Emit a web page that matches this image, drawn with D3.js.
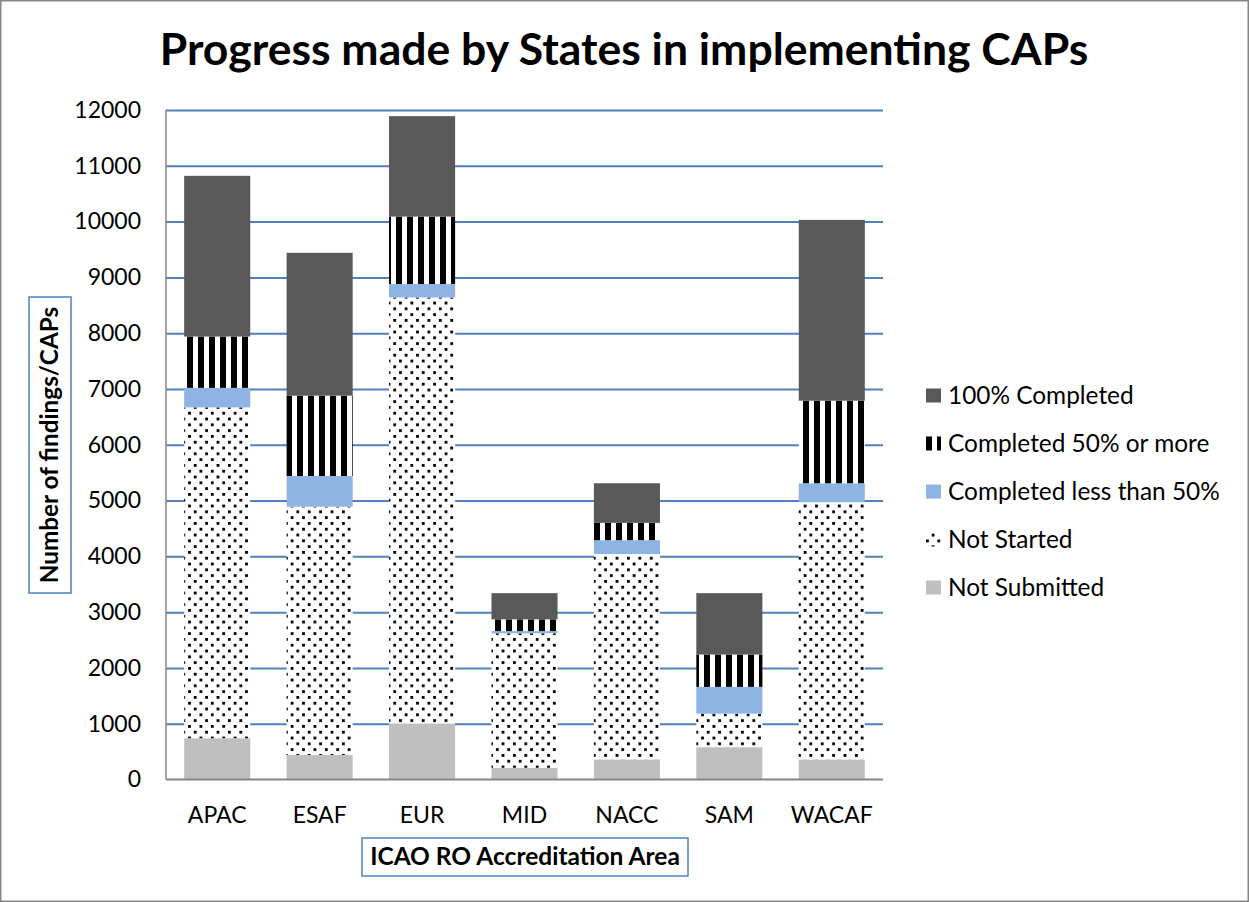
<!DOCTYPE html>
<html>
<head>
<meta charset="utf-8">
<script src="https://cdn.jsdelivr.net/npm/d3@7"></script>
<style>
  body { margin: 0; background: #fff; }
  svg { display: block; font-family: Lato, "Open Sans", sans-serif; }
</style>
</head>
<body>
<div id="chart"></div>
<script>
// data
const categories = ["APAC", "ESAF", "EUR", "MID", "NACC", "SAM", "WACAF"];
const notSubmitted = [740, 440, 1000, 210, 360, 580, 360];
const notStarted = [5930, 4450, 7640, 2410, 3680, 600, 4610];
const lessThan50 = [350, 550, 240, 40, 250, 480, 340];
const fiftyOrMore = [920, 1440, 1210, 210, 310, 580, 1480];
const completed100 = [2880, 2560, 1800, 470, 710, 1100, 3240];
const yTicks = d3.range(0, 12001, 1000);

const seriesKeys = ["notSubmitted", "notStarted", "lessThan50", "fiftyOrMore", "completed100"];
const seriesNames = {
  notSubmitted: "Not Submitted",
  notStarted: "Not Started",
  lessThan50: "Completed less than 50%",
  fiftyOrMore: "Completed 50% or more",
  completed100: "100% Completed"
};
const fills = {
  notSubmitted: "#bfbfbf",
  notStarted: "url(#dots)",
  lessThan50: "#8eb4e3",
  fiftyOrMore: "url(#stripes)",
  completed100: "#595959"
};

const table = categories.map((c, i) => ({
  area: c,
  notSubmitted: notSubmitted[i],
  notStarted: notStarted[i],
  lessThan50: lessThan50[i],
  fiftyOrMore: fiftyOrMore[i],
  completed100: completed100[i]
}));

const W = 1249, H = 902;
const plot = { left: 166, right: 883, top: 110, bottom: 779.5 };

const svg = d3.select("#chart").append("svg").attr("width", W).attr("height", H);

// patterns
const defs = svg.append("defs");
const dots = defs.append("pattern").attr("id", "dots")
  .attr("patternUnits", "userSpaceOnUse").attr("width", 11.4).attr("height", 11.6);
dots.append("rect").attr("width", 11.4).attr("height", 11.6).attr("fill", "#fff");
dots.append("rect").attr("x", 0).attr("y", 0).attr("width", 2.8).attr("height", 2.8).attr("fill", "#000");
dots.append("rect").attr("x", 5.7).attr("y", 5.8).attr("width", 2.8).attr("height", 2.8).attr("fill", "#000");

const stripes = defs.append("pattern").attr("id", "stripes")
  .attr("patternUnits", "userSpaceOnUse").attr("width", 11).attr("height", 10);
stripes.append("rect").attr("width", 11).attr("height", 10).attr("fill", "#fff");
stripes.append("rect").attr("x", 0).attr("width", 6).attr("height", 10).attr("fill", "#000");

// outer frame
svg.append("rect").attr("x", 0.75).attr("y", 0.75).attr("width", W - 1.5).attr("height", H - 1.5)
  .attr("fill", "none").attr("stroke", "#868686").attr("stroke-width", 1.5);

// title
svg.append("text").attr("x", 624).attr("y", 65).attr("text-anchor", "middle")
  .attr("font-weight", "bold").attr("font-size", 44.5).attr("fill", "#000")
  .text("Progress made by States in implementing CAPs");

const x = d3.scaleBand().domain(categories).range([plot.left, plot.right])
  .paddingInner(0.355).paddingOuter(0.1775);
const y = d3.scaleLinear().domain([0, 12000]).range([plot.bottom, plot.top]);

// gridlines
svg.append("g").attr("transform", `translate(${plot.left},0)`)
  .call(d3.axisLeft(y).tickValues(yTicks.slice(1)).tickSize(-(plot.right - plot.left)).tickFormat(""))
  .call(g => g.select(".domain").remove())
  .call(g => g.selectAll("line").attr("stroke", "#4f81bd").attr("stroke-width", 2));

// y tick labels
svg.append("g").attr("transform", `translate(141,0)`)
  .call(d3.axisLeft(y).tickValues(yTicks).tickSize(0).tickPadding(0).tickFormat(d3.format("d")))
  .call(g => g.select(".domain").remove())
  .call(g => g.selectAll("text").attr("font-size", 23).attr("fill", "#000")
    .attr("font-family", "Lato, sans-serif"));

// bars
const stacked = d3.stack().keys(seriesKeys)(table);
svg.append("g").selectAll("g").data(stacked).join("g")
  .attr("fill", d => fills[d.key])
  .selectAll("rect").data(d => d).join("rect")
  .attr("x", d => x(d.data.area))
  .attr("width", x.bandwidth())
  .attr("y", d => y(d[1]))
  .attr("height", d => y(d[0]) - y(d[1]));

// axis lines
svg.append("line").attr("x1", plot.left).attr("x2", plot.right)
  .attr("y1", plot.bottom).attr("y2", plot.bottom)
  .attr("stroke", "#868686").attr("stroke-width", 2);
svg.append("line").attr("x1", plot.left).attr("x2", plot.left)
  .attr("y1", plot.top).attr("y2", plot.bottom)
  .attr("stroke", "#868686").attr("stroke-width", 1.5);

// x labels
svg.append("g").attr("transform", `translate(0,${plot.bottom})`)
  .call(d3.axisBottom(x).tickSize(0).tickPadding(0))
  .call(g => g.select(".domain").remove())
  .call(g => g.selectAll("text").attr("dy", null).attr("y", 43).attr("font-size", 23)
    .attr("fill", "#000").attr("font-family", "Lato, sans-serif"));

// x axis title
svg.append("rect").attr("x", 362).attr("y", 838).attr("width", 326).attr("height", 38)
  .attr("fill", "#fff").attr("stroke", "#4f81bd").attr("stroke-width", 1.5);
svg.append("text").attr("x", 525).attr("y", 865).attr("text-anchor", "middle")
  .attr("font-weight", "bold").attr("font-size", 24.5).text("ICAO RO Accreditation Area");

// y axis title
svg.append("rect").attr("x", 29).attr("y", 297).attr("width", 42).attr("height", 296)
  .attr("fill", "#fff").attr("stroke", "#4f81bd").attr("stroke-width", 1.5);
svg.append("text").attr("transform", "translate(58,445) rotate(-90)").attr("text-anchor", "middle")
  .attr("font-weight", "bold").attr("font-size", 24.3).text("Number of findings/CAPs");

// legend
const legendOrder = ["completed100", "fiftyOrMore", "lessThan50", "notStarted", "notSubmitted"];
const legend = svg.append("g").selectAll("g").data(legendOrder).join("g")
  .attr("transform", (d, i) => `translate(926,${395.5 + i * 48})`);
legend.append("rect").attr("x", 0).attr("y", -7).attr("width", 15).attr("height", 14)
  .attr("fill", d => fills[d]);
legend.append("text").attr("x", 22).attr("y", 8).attr("font-size", 24.4).attr("fill", "#000")
  .text(d => seriesNames[d]);
</script>
</body>
</html>
